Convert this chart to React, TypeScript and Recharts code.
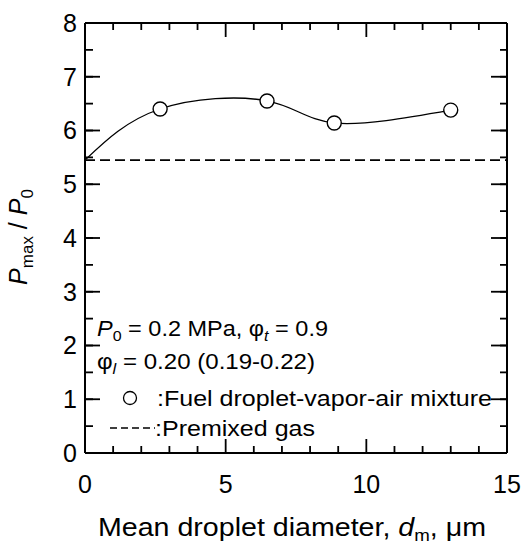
import React from 'react';
import { LineChart, Line, XAxis, YAxis, ReferenceLine, Customized } from 'recharts';

// Smooth fitted curve (anchor points)
const curveDiameter = [0, 2.67, 6.47, 8.86, 13.0];
const curveRatio = [5.45, 6.40, 6.55, 6.14, 6.38];
// Measured points: fuel droplet-vapor-air mixture
const dropletDiameter = [2.67, 6.47, 8.86, 13.0];
const dropletRatio = [6.40, 6.55, 6.14, 6.38];
// Premixed gas level
const premixedRatio = 5.45;

const xMajorStep = 5;
const xMajorTicks = [0, 5, 10, 15];
const xTicks = [0, 1, 2, 3, 4, 5, 6, 7, 8, 9, 10, 11, 12, 13, 14, 15];
const yMajorTicks = [0, 1, 2, 3, 4, 5, 6, 7, 8];
const yMinorTicks = [0, 0.5, 1, 1.5, 2, 2.5, 3, 3.5, 4, 4.5, 5, 5.5, 6, 6.5, 7, 7.5, 8];
const yMin = 0;
const yMax = 8;

const curveData = curveDiameter.map((d, i) => ({ d, r: curveRatio[i] }));
const pointData = dropletDiameter.map((d, i) => ({ d, r: dropletRatio[i] }));
const bottomTickData = xTicks.map((d) => ({ d, r: yMin }));
const topTickData = xTicks.map((d) => ({ d, r: yMax }));

const FONT = 'Liberation Sans, Arial, Helvetica, sans-serif';
const W = 532;
const H = 546;

const XTitle = (props: any) => {
  const vb = props.viewBox || {};
  const cx = vb.x + vb.width / 2 - 4;
  return (
    <text x={cx} y={536} textAnchor="middle" fontFamily={FONT} fontSize={26} fill="#000"
      textLength={388} lengthAdjust="spacingAndGlyphs">
      Mean droplet diameter,{' '}
      <tspan fontStyle="italic">d</tspan>
      <tspan fontSize={17} dy={5}>m</tspan>
      <tspan dy={-5}>, μm</tspan>
    </text>
  );
};

const YTitle = () => {
  const cx = 27;
  const cy = 237;
  return (
    <text
      x={cx}
      y={cy}
      textAnchor="middle"
      transform={`rotate(-90 ${cx} ${cy})`}
      fontFamily={FONT}
      fontSize={25}
      fill="#000"
    >
      <tspan fontStyle="italic">P</tspan>
      <tspan fontSize={17} dy={6}>max</tspan>
      <tspan dy={-6}> / </tspan>
      <tspan fontStyle="italic">P</tspan>
      <tspan fontSize={17} dy={6}>0</tspan>
    </text>
  );
};

const Annotations = () => (
  <g fontFamily={FONT} fill="#000">
    <text x={97} y={336} fontSize={22} textLength={231} lengthAdjust="spacingAndGlyphs">
      <tspan fontStyle="italic">P</tspan>
      <tspan fontSize={15} dy={5}>0</tspan>
      <tspan dy={-5}> = 0.2 MPa, φ</tspan>
      <tspan fontSize={15} dy={5} fontStyle="italic">t</tspan>
      <tspan dy={-5}> = 0.9</tspan>
    </text>
    <text x={97} y={369} fontSize={22} textLength={218} lengthAdjust="spacingAndGlyphs">
      <tspan>φ</tspan>
      <tspan fontSize={15} dy={5} fontStyle="italic">l</tspan>
      <tspan dy={-5}> = 0.20 (0.19-0.22)</tspan>
    </text>
    <circle cx={130} cy={398} r={6.5} fill="#fff" stroke="#000" strokeWidth={1.3} />
    <text x={157} y={406} fontSize={22} textLength={335} lengthAdjust="spacingAndGlyphs">
      :Fuel droplet-vapor-air mixture
    </text>
    <line x1={110} y1={428} x2={155} y2={428} stroke="#000" strokeWidth={1.6} strokeDasharray="7 4" />
    <text x={155} y={436} fontSize={22} textLength={160} lengthAdjust="spacingAndGlyphs">
      :Premixed gas
    </text>
  </g>
);

// Inward x tick marks rendered as custom "dots" positioned by the chart's scales
const makeTickDot = (dir: number) => (p: any) => {
  const { cx, cy, payload, index } = p;
  const len = payload && payload.d % xMajorStep === 0 ? 14 : 7;
  return (
    <path
      key={`tk${dir}-${index}`}
      d={`M${cx},${cy}L${cx},${cy + dir * len}`}
      stroke="#000"
      strokeWidth={1.8}
      fill="none"
    />
  );
};

const tickStyle = { fontFamily: FONT, fontSize: 25, fill: '#000' };
const NoLabel = () => <g />;
const tl = { stroke: '#000', strokeWidth: 1.8 };
const frame = { stroke: '#000', strokeWidth: 2 };

export default function App() {
  return (
    <div style={{ position: 'absolute', left: 0, top: 0, width: W, height: H, background: '#fff' }}>
      <LineChart
        width={W}
        height={H}
        margin={{ top: 22, right: 25, left: 35, bottom: 33 }}
      >
        <XAxis
          xAxisId="xb"
          type="number"
          dataKey="d"
          domain={[0, 15]}
          allowDataOverflow
          ticks={xMajorTicks}
          interval={0}
          tickLine={false}
          tickSize={0}
          tickMargin={22}
          axisLine={frame}
          tick={tickStyle}
          height={60}
          label={<XTitle />}
        />
        <XAxis
          xAxisId="xt"
          orientation="top"
          type="number"
          domain={[0, 15]}
          allowDataOverflow
          ticks={xMajorTicks}
          interval={0}
          tickLine={false}
          tickSize={0}
          tickMargin={0}
          axisLine={frame}
          tick={NoLabel}
          height={1}
        />
        <YAxis
          yAxisId="yl"
          type="number"
          domain={[yMin, yMax]}
          allowDataOverflow
          ticks={yMajorTicks}
          interval={0}
          tickLine={false}
          tickSize={0}
          tickMargin={8}
          axisLine={frame}
          tick={tickStyle}
          width={50}
          label={<YTitle />}
        />
        {/* right frame and inward y ticks on both sides */}
        <YAxis yAxisId="yr" orientation="right" mirror width={1} type="number" domain={[yMin, yMax]} allowDataOverflow
          ticks={yMinorTicks} interval={0} tick={NoLabel} tickSize={7}
          tickLine={tl} axisLine={frame} />
        <YAxis yAxisId="yrM" orientation="right" mirror width={1} type="number" domain={[yMin, yMax]} allowDataOverflow
          ticks={yMajorTicks} interval={0} tick={NoLabel} tickSize={15}
          tickLine={tl} axisLine={false} />
        <YAxis yAxisId="ylm" orientation="left" mirror width={1} type="number" domain={[yMin, yMax]} allowDataOverflow
          ticks={yMinorTicks} interval={0} tick={NoLabel} tickSize={7}
          tickLine={tl} axisLine={false} />
        <YAxis yAxisId="ylM" orientation="left" mirror width={1} type="number" domain={[yMin, yMax]} allowDataOverflow
          ticks={yMajorTicks} interval={0} tick={NoLabel} tickSize={15}
          tickLine={tl} axisLine={false} />

        <ReferenceLine
          xAxisId="xb"
          yAxisId="yl"
          y={premixedRatio}
          stroke="#000"
          strokeWidth={1.8}
          strokeDasharray="10 5"
        />
        {/* x tick marks (bottom and top frame edges) */}
        <Line
          xAxisId="xb"
          yAxisId="yl"
          data={bottomTickData}
          dataKey="r"
          stroke="none"
          dot={makeTickDot(-1)}
          activeDot={false}
          isAnimationActive={false}
          legendType="none"
        />
        <Line
          xAxisId="xb"
          yAxisId="yl"
          data={topTickData}
          dataKey="r"
          stroke="none"
          dot={makeTickDot(1)}
          activeDot={false}
          isAnimationActive={false}
          legendType="none"
        />
        <Line
          xAxisId="xb"
          yAxisId="yl"
          data={curveData}
          dataKey="r"
          type="natural"
          stroke="#000"
          strokeWidth={1.3}
          dot={false}
          activeDot={false}
          isAnimationActive={false}
        />
        <Line
          xAxisId="xb"
          yAxisId="yl"
          data={pointData}
          dataKey="r"
          stroke="none"
          dot={{ r: 7, fill: '#fff', stroke: '#000', strokeWidth: 1.4 }}
          activeDot={false}
          isAnimationActive={false}
        />
        <Customized component={Annotations} />
      </LineChart>
    </div>
  );
}
